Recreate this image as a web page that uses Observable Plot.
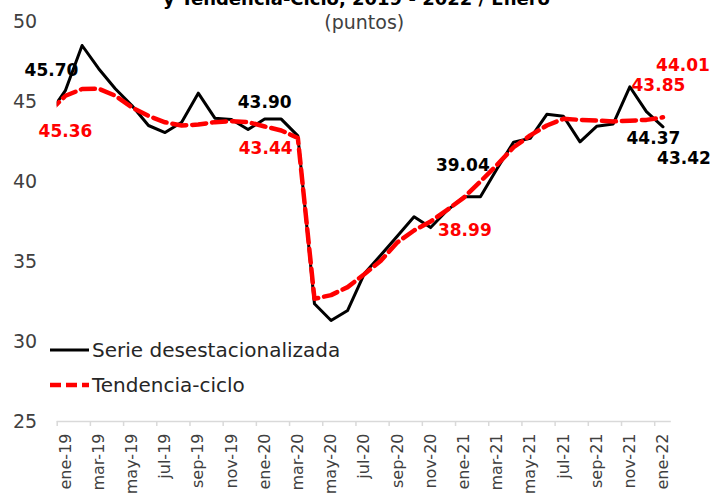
<!DOCTYPE html>
<html><head><meta charset="utf-8">
<script src="https://cdn.jsdelivr.net/npm/d3@7"></script>
<script src="https://cdn.jsdelivr.net/npm/@observablehq/plot@0.6"></script>
<style>
body{margin:0;background:#fff;font-family:"DejaVu Sans",sans-serif;}
#wrap{position:relative;width:723px;height:495px;overflow:hidden;background:#fff;}
#title{position:absolute;left:-5px;width:723px;text-align:center;top:-10px;font-size:18px;line-height:18px;font-weight:bold;color:#000;white-space:nowrap;}
#legend{position:absolute;left:0;top:0;pointer-events:none;}
</style></head><body>
<div id="wrap"><div id="chart"></div><div id="title"></div></div>
<script>
// Categories (first entry only partly visible, clipped at the left edge)
const months = ["dic-18","ene-19","feb-19","mar-19","abr-19","may-19","jun-19","jul-19","ago-19","sep-19","oct-19","nov-19","dic-19",
  "ene-20","feb-20","mar-20","abr-20","may-20","jun-20","jul-20","ago-20","sep-20","oct-20","nov-20","dic-20",
  "ene-21","feb-21","mar-21","abr-21","may-21","jun-21","jul-21","ago-21","sep-21","oct-21","nov-21","dic-21","ene-22"];
const desest = [44.2, 45.70, 48.5, 47.05, 45.8, 44.75, 43.5, 43.06, 43.7, 45.52, 43.96, 43.88, 43.25,
  43.90, 43.9, 42.85, 32.36, 31.31, 31.94, 34.23, 35.4, 36.6, 37.8, 37.12, 38.2,
  39.04, 39.04, 40.8, 42.46, 42.7, 44.2, 44.08, 42.48, 43.45, 43.6, 45.92, 44.37, 43.42];
const tendencia = [44.34, 45.36, 45.78, 45.8, 45.36, 44.63, 44.1, 43.7, 43.5, 43.56, 43.71, 43.77, 43.71,
  43.44, 43.19, 42.72, 32.67, 32.9, 33.4, 34.2, 35.05, 36.2, 36.94, 37.5, 38.23,
  38.99, 40.0, 41.04, 42.14, 42.88, 43.5, 43.92, 43.85, 43.81, 43.75, 43.8, 43.85, 44.01];
const seriesNames = ["Serie desestacionalizada", "Tendencia-ciclo"];
const yTicks = [25, 30, 35, 40, 45, 50];
const titleText = "y Tendencia-Ciclo, 2019 - 2022 / Enero";
const subtitle = "(puntos)";
// labelled points: category, series
const labelled = [
  {m:"ene-19", s:"d"}, {m:"ene-19", s:"t"},
  {m:"ene-20", s:"d"}, {m:"ene-20", s:"t"},
  {m:"ene-21", s:"d"}, {m:"ene-21", s:"t"},
  {m:"dic-21", s:"d"}, {m:"dic-21", s:"t"},
  {m:"ene-22", s:"d"}, {m:"ene-22", s:"t"}
];
// label offsets (style only)
const offsets = [[-14,-20],[0,36],[0,-17],[1,22],[-1,-31],[1,33],[7,27],[12,-34],[21,32],[20,-52]];

document.getElementById("title").textContent = titleText;

const rows = months.map((m, i) => ({i, m, d: desest[i], t: tendencia[i]}));
const labelIdx = months.map((m, i) => i).filter(i => i % 2 === 1);
const tickPos = labelIdx.map(i => i - 0.5);

const labelMarks = labelled.map((a, k) => {
  const row = rows.find(r => r.m === a.m);
  return Plot.text([row], {
    x: "i", y: a.s, text: r => r[a.s].toFixed(2),
    dx: offsets[k][0], dy: offsets[k][1],
    fill: a.s === "d" ? "#000000" : "#ff0000",
    fontWeight: "bold", fontSize: 17, lineAnchor: "middle", textAnchor: "middle"
  });
});

const chart = Plot.plot({
  width: 723, height: 495,
  marginLeft: 56.7, marginRight: 52.2, marginTop: 21, marginBottom: 74,
  style: {fontFamily: "DejaVu Sans", background: "white", overflow: "visible"},
  x: {type: "linear", domain: [0.5, 37.5], label: null},
  y: {domain: [25, 50], label: null},
  marks: [
    Plot.ruleY([25], {stroke: "#d9d9d9", strokeWidth: 1.5}),
    Plot.axisX({ticks: tickPos, tickSize: 5, stroke: "#d9d9d9", strokeWidth: 1.5, tickFormat: () => "", label: null}),
    Plot.axisX({ticks: labelIdx, tickSize: 0, tickPadding: 12, tickRotate: -90, tickFormat: i => months[i], fontSize: 16, color: "#404040", label: null}),
    Plot.axisY({ticks: yTicks, tickSize: 0, tickPadding: 20, fontSize: 19, color: "#404040", label: null}),
    Plot.text([subtitle], {frameAnchor: "top", dy: 1, fontSize: 19, fill: "#404040", lineAnchor: "middle"}),
    Plot.line(rows, {x: "i", y: "d", stroke: "#000000", strokeWidth: 3, strokeLinejoin: "round", clip: true}),
    Plot.line(rows, {x: "i", y: "t", stroke: "#ff0000", strokeWidth: 4.5, strokeDasharray: "14,6", strokeLinejoin: "round", clip: true}),
    ...labelMarks
  ]
});
document.getElementById("chart").appendChild(chart);

// legend overlay
const ns = "http://www.w3.org/2000/svg";
const lg = document.createElementNS(ns, "svg");
lg.setAttribute("id", "legend"); lg.setAttribute("width", 723); lg.setAttribute("height", 495);
const legendStyles = [
  {stroke: "#000000", w: 3, dash: null},
  {stroke: "#ff0000", w: 4.5, dash: "11,5"}
];
const legendRows = [350, 385];
seriesNames.forEach((name, k) => {
  const ln = document.createElementNS(ns, "line");
  ln.setAttribute("x1", 50); ln.setAttribute("x2", 89);
  ln.setAttribute("y1", legendRows[k]); ln.setAttribute("y2", legendRows[k]);
  ln.setAttribute("stroke", legendStyles[k].stroke);
  ln.setAttribute("stroke-width", legendStyles[k].w);
  if (legendStyles[k].dash) ln.setAttribute("stroke-dasharray", legendStyles[k].dash);
  lg.appendChild(ln);
  const tx = document.createElementNS(ns, "text");
  tx.setAttribute("x", 92); tx.setAttribute("y", legendRows[k]); tx.setAttribute("dy", "0.36em");
  tx.setAttribute("font-size", 20); tx.setAttribute("fill", "#262626");
  tx.setAttribute("font-family", "DejaVu Sans");
  tx.textContent = name;
  lg.appendChild(tx);
});
document.getElementById("wrap").appendChild(lg);
</script>
</body></html>
